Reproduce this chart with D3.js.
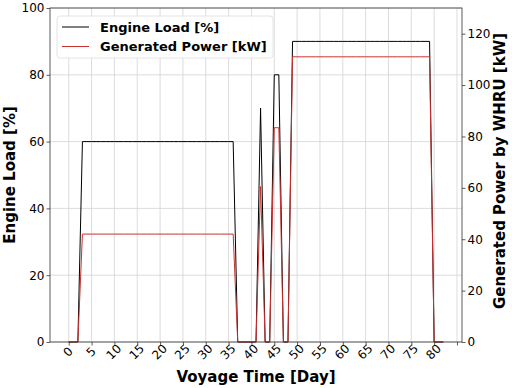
<!DOCTYPE html>
<html>
<head>
<meta charset="utf-8">
<script src="https://cdn.jsdelivr.net/npm/d3@7/dist/d3.min.js"></script>
<style>
  body { margin: 0; background: #fff; }
  text { font-family: "DejaVu Sans", sans-serif; fill: #000; }
</style>
</head>
<body>
<svg id="chart" width="512" height="388"></svg>
<script>
// voyage days
var days = [0,1,2,3,4,5,6,7,8,9,10,11,12,13,14,15,16,17,18,19,20,21,22,23,24,25,26,27,28,29,
	30,31,32,33,34,35,36,37,38,39,40,41,42,43,44,45,46,47,48,49,50,51,52,53,54,55,56,57,58,59,
	60,61,62,63,64,65,66,67,68,69,70,71,72,73,74,75,76,77,78,79,80,81,82];

// engine load [%] per day
var engineLoad = [0,0,0,60,60,60,60,60,60,60,60,60,60,60,60,60,60,60,60,60,60,60,60,60,60,60,60,60,60,60,
	60,60,60,60,60,60,60,0,0,0,0,0,70,0,0,80,80,0,0,90,90,90,90,90,90,90,90,90,90,90,
	90,90,90,90,90,90,90,90,90,90,90,90,90,90,90,90,90,90,90,90,0,0,0];

// generated power by WHRU [kW] per day
var genPower = [0,0,0,42,42,42,42,42,42,42,42,42,42,42,42,42,42,42,42,42,42,42,42,42,42,42,42,42,42,42,
	42,42,42,42,42,42,42,0,0,0,0,0,60.5,0,0,83.4,83.4,0,0,111,111,111,111,111,111,111,111,111,111,111,
	111,111,111,111,111,111,111,111,111,111,111,111,111,111,111,111,111,111,111,111,0,0,0];

var xTicks = [0,5,10,15,20,25,30,35,40,45,50,55,60,65,70,75,80,85];
var xTickLabels = ["0","5","10","15","20","25","30","35","40","45","50","55","60","65","70","75","80",""];
var leftTicks = [0,20,40,60,80,100];
var rightTicks = [0,20,40,60,80,100,120];

var margin = { top: 8, right: 50, bottom: 46, left: 50 },
	W = 512, H = 388,
	width = W - margin.left - margin.right,
	height = H - margin.top - margin.bottom;

var svg = d3.select("#chart");
var g = svg.append("g").attr("transform", "translate(" + margin.left + "," + margin.top + ")");

var x = d3.scaleLinear().domain([-4.1, 86.1]).range([0, width]);
var yL = d3.scaleLinear().domain([0, 100]).range([height, 0]);
var yR = d3.scaleLinear().domain([0, 130]).range([height, 0]);

// grid
g.append("g").selectAll("line").data(xTicks).enter().append("line")
	.attr("x1", d => x(d)).attr("x2", d => x(d)).attr("y1", 0).attr("y2", height)
	.attr("stroke", "#d3d3d3").attr("stroke-width", 0.8);
g.append("g").selectAll("line").data(leftTicks).enter().append("line")
	.attr("x1", 0).attr("x2", width).attr("y1", d => yL(d)).attr("y2", d => yL(d))
	.attr("stroke", "#d3d3d3").attr("stroke-width", 0.8);

// lines
var lineL = d3.line().x((d, i) => x(days[i])).y(d => yL(d));
var lineR = d3.line().x((d, i) => x(days[i])).y(d => yR(d));
g.append("path").datum(engineLoad).attr("d", lineL)
	.attr("fill", "none").attr("stroke", "#000").attr("stroke-width", 1);
g.append("path").datum(genPower).attr("d", lineR)
	.attr("fill", "none").attr("stroke", "#c8302e").attr("stroke-width", 1);

// axes
var xAxis = g.append("g").attr("transform", "translate(0," + height + ")")
	.call(d3.axisBottom(x).tickValues(xTicks).tickSize(3.5).tickPadding(0)
		.tickFormat((d, i) => xTickLabels[i]));
xAxis.selectAll("text")
	.attr("font-size", 12).attr("dy", null).attr("y", null)
	.attr("text-anchor", "middle").attr("dominant-baseline", "central")
	.attr("transform", "translate(-1,10) rotate(-45)");

var leftAxis = g.append("g")
	.call(d3.axisLeft(yL).tickValues(leftTicks).tickSize(3.5).tickPadding(2));
leftAxis.selectAll("text").attr("font-size", 12);

var rightAxis = g.append("g").attr("transform", "translate(" + width + ",0)")
	.call(d3.axisRight(yR).tickValues(rightTicks).tickSize(3.5).tickPadding(2));
rightAxis.selectAll("text").attr("font-size", 12);

[xAxis, leftAxis, rightAxis].forEach(a => {
	a.select(".domain").remove();
	a.selectAll("line").attr("stroke", "#333").attr("stroke-width", 0.8);
});

// frame
g.append("rect").attr("width", width).attr("height", height)
	.attr("fill", "none").attr("stroke", "#333").attr("stroke-width", 0.8);

// axis titles
svg.append("text").attr("x", margin.left + width / 2).attr("y", 382)
	.attr("text-anchor", "middle").attr("font-size", 15).attr("font-weight", "bold")
	.text("Voyage Time [Day]");
svg.append("text").attr("transform", "translate(15,175) rotate(-90)")
	.attr("text-anchor", "middle").attr("font-size", 15).attr("font-weight", "bold")
	.text("Engine Load [%]");
svg.append("text").attr("transform", "translate(505,171) rotate(-90)")
	.attr("text-anchor", "middle").attr("font-size", 15).attr("font-weight", "bold")
	.text("Generated Power by WHRU [kW]");

// legend
var legendItems = [["Engine Load [%]", "#000"], ["Generated Power [kW]", "#c8302e"]];
var lg = svg.append("g").attr("transform", "translate(57,16)");
lg.append("rect").attr("width", 216).attr("height", 42).attr("rx", 3)
	.attr("fill", "#fff").attr("fill-opacity", 0.9).attr("stroke", "#ddd").attr("stroke-width", 0.8);
lg.selectAll("g.item").data(legendItems).enter().append("g")
	.attr("transform", (d, i) => "translate(0," + (11 + i * 19.5) + ")")
	.each(function (d) {
		var it = d3.select(this);
		it.append("line").attr("x1", 5).attr("x2", 32).attr("stroke", d[1]).attr("stroke-width", 1);
		it.append("text").attr("x", 43).attr("dy", "0.35em")
			.attr("font-size", 13).attr("font-weight", "bold").text(d[0]);
	});
</script>
</body>
</html>
